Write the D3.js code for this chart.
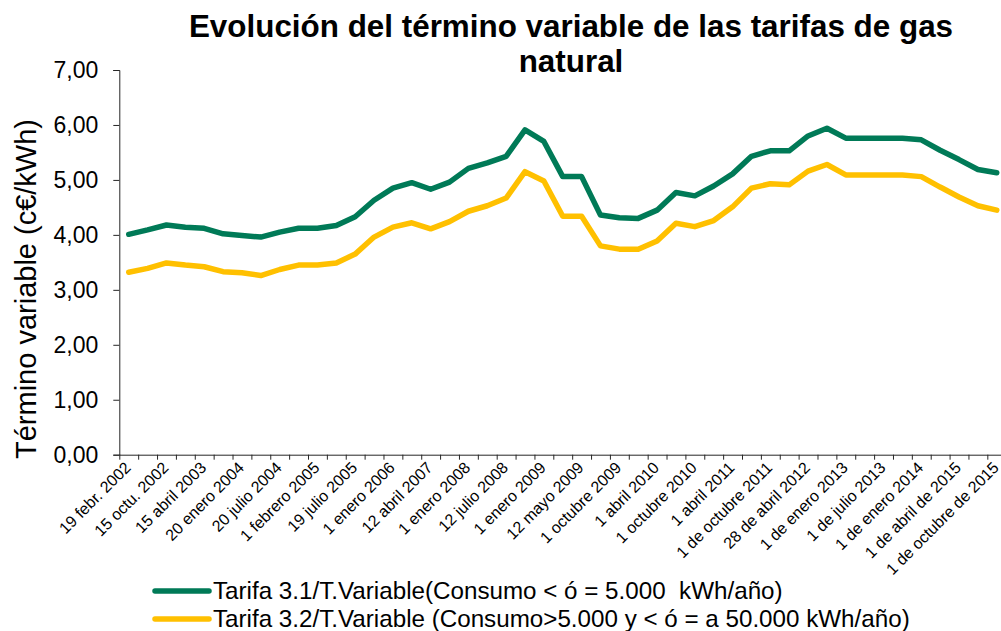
<!DOCTYPE html>
<html>
<head>
<meta charset="utf-8">
<script src="https://cdn.jsdelivr.net/npm/d3@7"></script>
<style>
  html, body { margin: 0; padding: 0; background: #fff; }
  svg { display: block; font-family: "Liberation Sans", Arial, sans-serif; }
</style>
</head>
<body>
<svg id="chart" width="1001" height="631"></svg>
<script>
// ---- data ----
const titleLines = ["Evolución del término variable de las tarifas de gas", "natural"];
const yAxisTitle = "Término variable (c€/kWh)";
const tickLabels = [
  "19 febr. 2002", "15 octu. 2002", "15 abril 2003", "20 enero 2004", "20 julio 2004",
  "1 febrero 2005", "19 julio 2005", "1 enero 2006", "12 abril 2007", "1 enero 2008",
  "12 julio 2008", "1 enero 2009", "12 mayo 2009", "1 octubre 2009", "1 abril 2010",
  "1 octubre 2010", "1 abril 2011", "1 de octubre 2011", "28 de abril 2012",
  "1 de enero 2013", "1 de julio 2013", "1 de enero 2014", "1 de abril de 2015",
  "1 de octubre de 2015"
];
const seriesNames = [
  "Tarifa 3.1/T.Variable(Consumo < ó = 5.000  kWh/año)",
  "Tarifa 3.2/T.Variable (Consumo>5.000 y < ó = a 50.000 kWh/año)"
];
const tarifa31 = [
  4.01, 4.09, 4.18, 4.14, 4.12, 4.02, 3.99, 3.96, 4.05, 4.12,
  4.12, 4.17, 4.33, 4.63, 4.85, 4.95, 4.83, 4.96, 5.21, 5.31,
  5.43, 5.91, 5.70, 5.06, 5.06, 4.36, 4.31, 4.30, 4.45, 4.77,
  4.71, 4.89, 5.11, 5.43, 5.53, 5.53, 5.80, 5.94, 5.76, 5.76,
  5.76, 5.76, 5.73, 5.54, 5.37, 5.19, 5.13
];
const tarifa32 = [
  3.32, 3.39, 3.49, 3.45, 3.42, 3.33, 3.31, 3.26, 3.37, 3.45,
  3.45, 3.49, 3.65, 3.96, 4.14, 4.22, 4.11, 4.24, 4.43, 4.53,
  4.67, 5.15, 4.98, 4.34, 4.34, 3.80, 3.74, 3.74, 3.89, 4.21,
  4.15, 4.26, 4.51, 4.85, 4.93, 4.91, 5.16, 5.28, 5.09, 5.09,
  5.09, 5.09, 5.06, 4.87, 4.69, 4.53, 4.45
];
const yTicks = [0, 1, 2, 3, 4, 5, 6, 7];
const colors = ["#007A57", "#FFC000"];

// ---- layout ----
const svg = d3.select("#chart");
const plotLeft = 119.3, plotTop = 70, plotBottom = 454.7;
const catW = 18.87;
const nCat = tarifa31.length;
const idx = d3.range(nCat);

const x = d3.scaleBand().domain(idx).range([plotLeft, plotLeft + nCat * catW]).paddingInner(0).paddingOuter(0);
const xb = d3.scaleLinear().domain([0, nCat]).range([plotLeft, plotLeft + nCat * catW]);
const y = d3.scaleLinear().domain([0, 7]).range([plotBottom, plotTop]);
const axisColor = "#262626";

// title
svg.append("g").selectAll("text").data(titleLines).join("text")
  .attr("x", 571).attr("y", (d, i) => 37 + i * 35)
  .attr("text-anchor", "middle")
  .attr("font-weight", "bold").attr("font-size", 31.4)
  .attr("fill", "#000")
  .text(d => d);

// y axis
const yAxis = svg.append("g").attr("transform", `translate(${plotLeft},0)`)
  .call(d3.axisLeft(y).tickValues(yTicks).tickSize(6).tickPadding(15)
    .tickFormat(d => d3.format(".2f")(d).replace(".", ",")));
yAxis.selectAll("path, line").attr("stroke", axisColor);
yAxis.selectAll("text").attr("font-size", 23).attr("fill", "#000")
  .attr("font-family", "'Liberation Sans', Arial, sans-serif");

// y axis title
svg.append("text")
  .attr("transform", `translate(36,289) rotate(-90)`)
  .attr("text-anchor", "middle")
  .attr("font-size", 29).attr("fill", "#000")
  .text(yAxisTitle);

// x axis: tick marks at category boundaries
const xTickAxis = svg.append("g").attr("transform", `translate(0,${plotBottom})`)
  .call(d3.axisBottom(xb).tickValues(d3.range(0, nCat + 1)).tickSize(5).tickSizeOuter(0).tickFormat(""));
xTickAxis.selectAll("path, line").attr("stroke", axisColor);

// x axis labels every 2nd category
const labelIdx = idx.filter(i => i % 2 === 0);
const xLab = svg.append("g").attr("transform", `translate(0,${plotBottom})`)
  .call(d3.axisBottom(x).tickValues(labelIdx).tickSize(0)
    .tickFormat(i => tickLabels[i / 2]));
xLab.select(".domain").remove();
xLab.selectAll("text")
  .attr("font-size", 16).attr("fill", "#000")
  .attr("font-family", "'Liberation Sans', Arial, sans-serif")
  .attr("text-anchor", "end")
  .attr("dy", 0)
  .attr("y", 0)
  .attr("transform", "translate(3,14) rotate(-45)");

// lines
const line = d3.line()
  .x((d, i) => x(i) + x.bandwidth() / 2)
  .y(d => y(d));
[tarifa31, tarifa32].forEach((s, k) => {
  svg.append("path").datum(s)
    .attr("d", line)
    .attr("fill", "none")
    .attr("stroke", colors[k])
    .attr("stroke-width", 5.5)
    .attr("stroke-linejoin", "round")
    .attr("stroke-linecap", "round");
});

// legend
const leg = svg.append("g");
seriesNames.forEach((name, k) => {
  const yy = 591 + k * 28;
  leg.append("line")
    .attr("x1", 155).attr("x2", 209).attr("y1", yy).attr("y2", yy)
    .attr("stroke", colors[k]).attr("stroke-width", 5.5).attr("stroke-linecap", "round");
  leg.append("text")
    .attr("x", 213).attr("y", yy + 7.5)
    .attr("font-size", 24.2).attr("fill", "#000")
    .attr("xml:space", "preserve")
    .style("white-space", "pre")
    .text(name);
});
</script>
</body>
</html>
